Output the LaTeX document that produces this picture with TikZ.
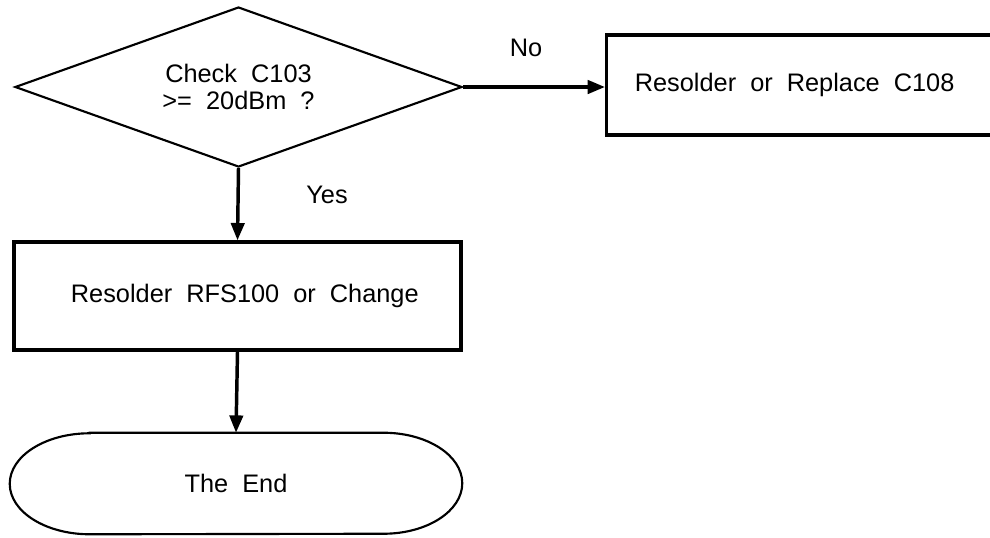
\documentclass[tikz,border=0pt]{standalone}
\usepackage{fontspec}
\setmainfont{Liberation Sans}
\usetikzlibrary{shapes.geometric,arrows.meta}
\tikzset{
  every node/.style={font=\fontsize{19}{19}\selectfont, inner sep=0pt},
  thinline/.style={line width=1.6pt},
  boxnode/.style={draw, rectangle, line width=2.5pt},
  decision/.style={draw, diamond, thinline, aspect=2.79, minimum width=335.25pt, minimum height=120pt},
  flow/.style={line width=2.6pt, -{Triangle[length=13pt,width=10pt]}},
  lbl/.style={}
}
\begin{document}
\begin{tikzpicture}[x=0.75pt,y=-0.75pt]
\useasboundingbox (0,0) rectangle (990,537);
\clip (0,0) rectangle (990,537);
\node[decision, align=center] (dia) at (238.5,87) {Check~~C103\\[1pt] >=~~20dBm~~?};
\node[boxnode, anchor=west, minimum width=300pt, minimum height=75pt] (box1) at (605,85) {Resolder~~or~~Replace~~C108\hspace*{18pt}};
\node[boxnode, minimum width=335.25pt, minimum height=81pt] (box2) at (237.5,296) {\hspace*{11pt}Resolder~~RFS100~~or~~Change};
\node[minimum width=339pt, minimum height=75.75pt] (end) at (236,483.5) {The~~End};
\draw[thinline] ([xshift=60pt]end.north west) -- ([xshift=-59pt]end.north east)
  arc[start angle=90, end angle=-90, x radius=59pt, y radius=37.875pt]
  -- ([xshift=60pt]end.south west)
  arc[start angle=270, end angle=90, x radius=60pt, y radius=37.875pt] -- cycle;
\node[lbl] (no) at (526,48) {No};
\node[lbl] (yes) at (327,195) {Yes};
\draw[flow] (dia.east) -- (dia.east -| box1.west);
\draw[flow] (dia.south) -- (box2.north);
\draw[flow] (box2.south) -- (end.north);
\end{tikzpicture}
\end{document}
